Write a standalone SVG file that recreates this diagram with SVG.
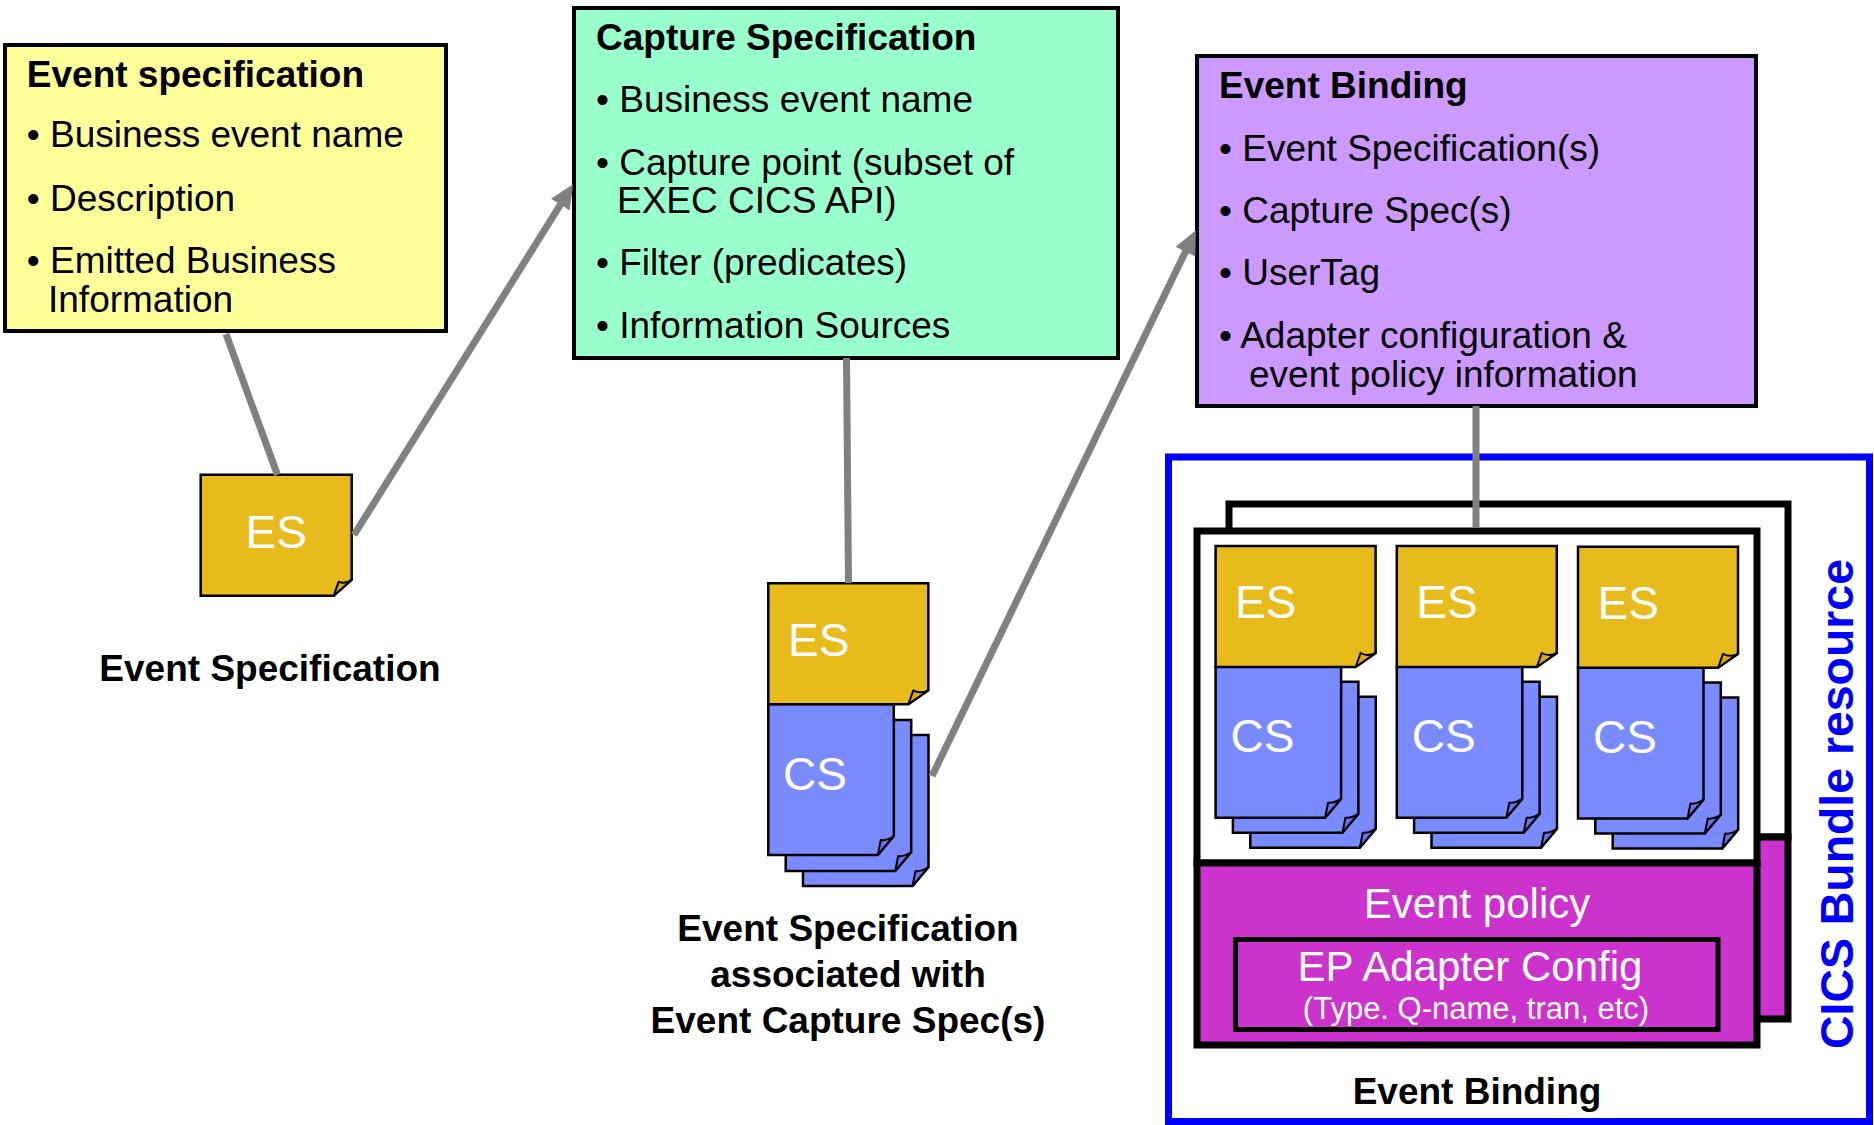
<svg xmlns="http://www.w3.org/2000/svg" xmlns:xlink="http://www.w3.org/1999/xlink" width="1874" height="1125" viewBox="0 0 1874 1125">
<style>
text { font-family: "Liberation Sans", Arial, Helvetica, sans-serif; }
.body { font-size: 37px; fill: #000; }
.bold { font-weight: bold; }
.sheetTxt { font-size: 46px; fill: #fff; }
.white { fill: #fff; }
.box { stroke: #000; stroke-width: 4; }
.es { fill: #E8BB1C; stroke: #000; stroke-width: 2.5; stroke-linejoin: miter; }
.esCurl { fill: #D9AA14; stroke: #000; stroke-width: 2; stroke-linejoin: round; }
.cs { fill: #7A8BFF; stroke: #000; stroke-width: 2.5; }
.csCurl { fill: #6677EE; stroke: #000; stroke-width: 2; stroke-linejoin: round; }
.page { stroke: #000; stroke-width: 7; }
.conn { stroke: #808080; stroke-width: 7; fill: none; }
</style>
<defs>
  <marker id="arrow" markerUnits="userSpaceOnUse" markerWidth="26" markerHeight="24" refX="2" refY="11" orient="auto">
    <path d="M0,0 L24,11 L0,22 Z" fill="#808080"/>
  </marker>
  <g id="esSheet">
    <path class="es" d="M0,0 H160 V107 L140,121 H0 Z"/>
    <path class="esCurl" d="M140,121 L145,107 Q152,111 160,107 Z"/>
  </g>
  <g id="esSmall">
    <path class="es" d="M0,0 H151 V105 L133,121 H0 Z"/>
    <path class="esCurl" d="M133,121 L138,107 Q144,110 151,105 Z"/>
  </g>
  <g id="csSheet">
    <path class="cs" d="M0,0 H125.5 V132 L109.5,151 H0 Z"/>
    <path class="csCurl" d="M109.5,151 L112.5,136 Q118,137 125.5,132 Z"/>
  </g>
</defs>

<rect width="1874" height="1125" fill="#fff"/>

<g id="event-spec-box">
  <rect class="box" x="5" y="45" width="441" height="286" fill="#FFFF99"/>
  <text class="body bold" x="26.8" y="86.5">Event specification</text>
  <text class="body" x="26.8" y="147">• Business event name</text>
  <text class="body" x="26.8" y="210.5">• Description</text>
  <text class="body" x="26.8" y="273">• Emitted Business</text>
  <text class="body" x="48" y="311.5">Information</text>
</g>

<g id="capture-spec-box">
  <rect class="box" x="574" y="8" width="544" height="350" fill="#99FFCC"/>
  <text class="body bold" x="596" y="50">Capture Specification</text>
  <text class="body" x="596" y="112">• Business event name</text>
  <text class="body" x="596" y="175">• Capture point (subset of</text>
  <text class="body" x="617" y="213">EXEC CICS API)</text>
  <text class="body" x="596" y="275">• Filter (predicates)</text>
  <text class="body" x="596" y="338">• Information Sources</text>
</g>

<g id="event-binding-box">
  <rect class="box" x="1197" y="56" width="559" height="350" fill="#CC99FF"/>
  <text class="body bold" x="1219" y="98.3">Event Binding</text>
  <text class="body" x="1219" y="161">• Event Specification(s)</text>
  <text class="body" x="1219" y="223">• Capture Spec(s)</text>
  <text class="body" x="1219" y="285">• UserTag</text>
  <text class="body" x="1219" y="347.7">• Adapter configuration &amp;</text>
  <text class="body" x="1249" y="386.7">event policy information</text>
</g>

<g id="es-node">
  <use xlink:href="#esSmall" x="200.7" y="474.7"/>
  <text class="sheetTxt" x="276.2" y="548" text-anchor="middle">ES</text>
  <text class="body bold" x="270" y="681" text-anchor="middle">Event Specification</text>
</g>

<g id="es-cs-node">
  <use xlink:href="#csSheet" x="803" y="735"/>
  <use xlink:href="#csSheet" x="785.7" y="720"/>
  <use xlink:href="#csSheet" x="768.3" y="704"/>
  <use xlink:href="#esSheet" x="768.3" y="583.3"/>
  <text class="sheetTxt" x="788" y="656">ES</text>
  <text class="sheetTxt" x="783" y="790">CS</text>
  <text class="body bold" x="848" y="940.7" text-anchor="middle">Event Specification</text>
  <text class="body bold" x="848" y="986.7" text-anchor="middle">associated with</text>
  <text class="body bold" x="848" y="1033" text-anchor="middle">Event Capture Spec(s)</text>
</g>

<g id="cics-bundle">
  <rect x="1168.5" y="457" width="701" height="664.5" fill="none" stroke="#0000FF" stroke-width="7"/>
  <text class="bold" font-size="46" fill="#0000FF" transform="translate(1853,804) rotate(-90)" text-anchor="middle" textLength="490" lengthAdjust="spacingAndGlyphs">CICS Bundle resource</text>
  <text class="body bold" x="1477" y="1104" text-anchor="middle">Event Binding</text>
</g>

<g id="binding-back-page">
  <rect class="page" x="1229" y="504" width="559" height="333" fill="#fff"/>
  <rect class="page" x="1229" y="837" width="559" height="182" fill="#CC33CC"/>
</g>

<g id="binding-front-page">
  <rect class="page" x="1197" y="531" width="560" height="332" fill="#fff"/>
  <rect class="page" x="1197" y="863" width="560" height="182" fill="#CC33CC"/>
  <text class="white" font-size="42" x="1477" y="918" text-anchor="middle">Event policy</text>
  <rect x="1235.5" y="939.5" width="482.5" height="90" fill="#CC33CC" stroke="#000" stroke-width="5"/>
  <text class="white" font-size="42" x="1470" y="981" text-anchor="middle">EP Adapter Config</text>
  <text class="white" font-size="31" x="1476" y="1019" text-anchor="middle">(Type. Q-name, tran, etc)</text>
</g>

<g id="bundle-col-1">
  <use xlink:href="#csSheet" x="1250.3" y="696.7"/>
  <use xlink:href="#csSheet" x="1232.9" y="681.7"/>
  <use xlink:href="#csSheet" x="1215.6" y="666.7"/>
  <use xlink:href="#esSheet" x="1215.6" y="546"/>
  <text class="sheetTxt" x="1235.1" y="618">ES</text>
  <text class="sheetTxt" x="1230.6" y="752">CS</text>
</g>
<g id="bundle-col-2">
  <use xlink:href="#csSheet" x="1431.5" y="696.7"/>
  <use xlink:href="#csSheet" x="1414.1" y="681.7"/>
  <use xlink:href="#csSheet" x="1396.8" y="666.7"/>
  <use xlink:href="#esSheet" x="1396.8" y="546"/>
  <text class="sheetTxt" x="1416.3" y="618">ES</text>
  <text class="sheetTxt" x="1411.8" y="752">CS</text>
</g>
<g id="bundle-col-3">
  <use xlink:href="#csSheet" x="1612.7" y="697.5"/>
  <use xlink:href="#csSheet" x="1595.3" y="682.5"/>
  <use xlink:href="#csSheet" x="1578" y="667.5"/>
  <use xlink:href="#esSheet" x="1578" y="546.8"/>
  <text class="sheetTxt" x="1597.5" y="619">ES</text>
  <text class="sheetTxt" x="1593" y="753">CS</text>
</g>

<g id="connectors">
  <line class="conn" x1="226" y1="334" x2="277.5" y2="475"/>
  <line class="conn" x1="354" y1="535" x2="561.4" y2="203" marker-end="url(#arrow)"/>
  <line class="conn" x1="846.5" y1="358" x2="848.5" y2="583"/>
  <line class="conn" x1="932" y1="776" x2="1186.3" y2="250" marker-end="url(#arrow)"/>
  <line class="conn" x1="1476" y1="406" x2="1476" y2="528"/>
</g>
</svg>
